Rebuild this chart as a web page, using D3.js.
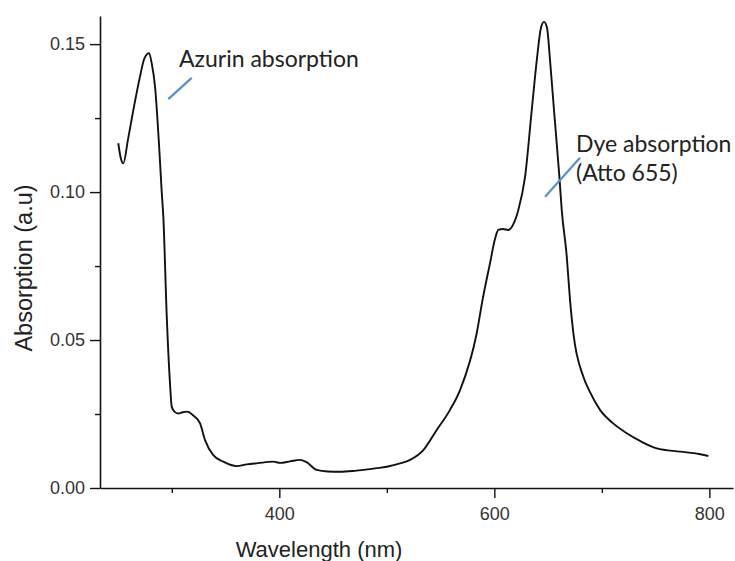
<!DOCTYPE html>
<html>
<head>
<meta charset="utf-8">
<script src="https://cdn.jsdelivr.net/npm/d3@7"></script>
<style>
  html, body { margin: 0; padding: 0; background: #fff; }
  svg { display: block; }
</style>
</head>
<body>
<svg id="chart" width="735" height="561"></svg>
<script>
// ---- data ----
const wavelength = [
  250.2, 252.5, 254.9, 259.3, 264.2, 270.4, 274.5, 278.8, 281.3, 284.4,
  288.4, 290.6, 292.1, 295.3, 298.3, 299.9, 302.5, 306.0, 310.0, 314.4,
  320.0, 326.2, 330.9, 338.6, 347.9, 360.4, 369.7, 380.0, 394.4, 400.7,
  410.0, 419.3, 425.0, 434.8, 445.0, 456.5, 470.0, 490.6, 500.0, 512.3,
  521.6, 534.0, 546.4, 558.8, 568.1, 583.6, 589.0, 596.0, 600.5, 603.7,
  608.0, 613.0, 619.3, 622.3, 628.6, 634.8, 639.5, 643.4, 646.2, 649.0,
  651.8, 655.5, 660.5, 662.7, 667.3, 670.4, 673.5, 682.8, 689.0, 698.3,
  710.0, 723.2, 735.5, 751.1, 772.7, 790.4, 799.1
];
const absorption = [
  0.1165, 0.1115, 0.1097, 0.1179, 0.1277, 0.1390, 0.1452, 0.1469, 0.1435, 0.1356,
  0.1142, 0.1001, 0.0917, 0.0579, 0.0354, 0.0275, 0.0258, 0.0252, 0.0256, 0.0258,
  0.0245, 0.0219, 0.0162, 0.0111, 0.0089, 0.0074, 0.0080, 0.0084, 0.0089, 0.0085,
  0.0090, 0.0095, 0.0088, 0.0061, 0.0056, 0.0055, 0.0058, 0.0067, 0.0072, 0.0083,
  0.0095, 0.0128, 0.0196, 0.0264, 0.0331, 0.0523, 0.0635, 0.0760, 0.0840, 0.0872,
  0.0875, 0.0872, 0.0905, 0.0939, 0.1052, 0.1277, 0.1446, 0.1555, 0.1575, 0.1555,
  0.1446, 0.1277, 0.1052, 0.0939, 0.0785, 0.0635, 0.0523, 0.0376, 0.0324, 0.0264,
  0.0220, 0.0185, 0.0159, 0.0134, 0.0123, 0.0115, 0.0108
];
const xMajorTicks = [400, 600, 800];
const xMinorTicks = [300, 500, 700];
const yMajorTicks = [0.00, 0.05, 0.10, 0.15];
const yMinorTicks = [0.025, 0.075, 0.125];
const xTitle = "Wavelength (nm)";
const yTitle = "Absorption (a.u)";
const annotationLabels = [["Azurin absorption"], ["Dye absorption", "(Atto 655)"]];
// leader lines, in data units: [wl1, ab1, wl2, ab2]
const annotationLeaders = [[296.7, 0.1314, 318.5, 0.1386], [647.2, 0.0984, 679.7, 0.1116]];

// ---- layout ----
const svg = d3.select("#chart");
const margin = { left: 100, top: 16, right: 2, bottom: 73 };
const W = 735, H = 561;
const x = d3.scaleLinear().domain([233.2, 822]).range([margin.left, W - margin.right]);
const y = d3.scaleLinear().domain([0, 0.1595]).range([H - margin.bottom, margin.top]);

const tickFont = "'Liberation Sans', Arial, sans-serif";

// x axis
const gx = svg.append("g").attr("transform", `translate(0,${y(0)})`);
gx.call(d3.axisBottom(x).tickValues(xMajorTicks).tickSize(10).tickSizeOuter(0).tickPadding(9)
  .tickFormat(d3.format("d")));
gx.append("g").call(d3.axisBottom(x).tickValues(xMinorTicks).tickSize(5).tickFormat(""))
  .select(".domain").remove();

// y axis
const gy = svg.append("g").attr("transform", `translate(${x.range()[0]},0)`);
gy.call(d3.axisLeft(y).tickValues(yMajorTicks).tickSize(10).tickSizeOuter(0).tickPadding(5)
  .tickFormat(d3.format(".2f")));
gy.append("g").call(d3.axisLeft(y).tickValues(yMinorTicks).tickSize(5).tickFormat(""))
  .select(".domain").remove();

svg.selectAll(".domain").attr("stroke", "#111").attr("stroke-width", 1.6);
svg.selectAll(".tick line").attr("stroke", "#111").attr("stroke-width", 1.4);
svg.selectAll(".tick text").attr("font-family", tickFont).attr("font-size", 18).attr("fill", "#333");

// axis titles
svg.append("text").attr("x", 319).attr("y", 557).attr("text-anchor", "middle")
  .attr("font-family", tickFont).attr("font-size", 22).attr("fill", "#222").text(xTitle);
svg.append("text").attr("transform", "translate(32,268) rotate(-90)").attr("text-anchor", "middle")
  .attr("font-family", tickFont).attr("font-size", 23.5).attr("fill", "#222").text(yTitle);

// curve
const pts = wavelength.map((w, i) => [w, absorption[i]]);
const line = d3.line().x(d => x(d[0])).y(d => y(d[1])).curve(d3.curveMonotoneX);
svg.append("path").datum(pts).attr("d", line).attr("fill", "none")
  .attr("stroke", "#111").attr("stroke-width", 1.9).attr("stroke-linejoin", "round");

// annotations
const annFont = "Lato, 'Open Sans', sans-serif";
annotationLeaders.forEach(a => {
  svg.append("line")
    .attr("x1", x(a[0])).attr("y1", y(a[1])).attr("x2", x(a[2])).attr("y2", y(a[3]))
    .attr("stroke", "#5b8fc9").attr("stroke-width", 2.2);
});
svg.append("text").attr("x", 179).attr("y", 67).attr("font-family", annFont)
  .attr("font-size", 23).attr("fill", "#222").text(annotationLabels[0][0]);
const t2 = svg.append("text").attr("font-family", annFont).attr("font-size", 23).attr("fill", "#222");
t2.append("tspan").attr("x", 576).attr("y", 151.5).text(annotationLabels[1][0]);
t2.append("tspan").attr("x", 576).attr("y", 180.5).text(annotationLabels[1][1]);
</script>
</body>
</html>
